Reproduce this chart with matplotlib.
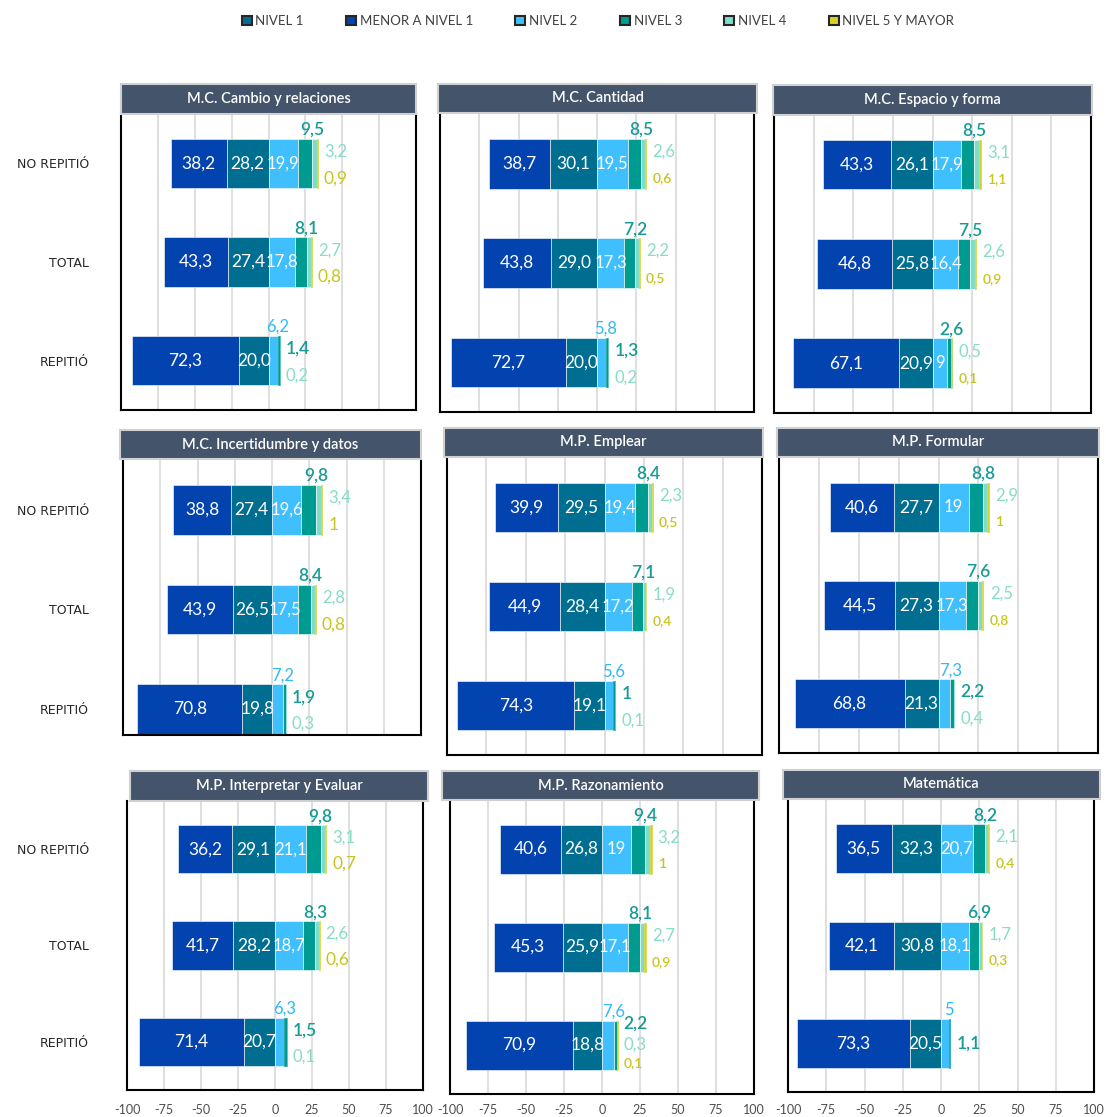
import matplotlib
matplotlib.use("Agg")
import matplotlib.pyplot as plt
from matplotlib.patches import Rectangle, Patch

# ---------------- data ----------------
groups = ["NO REPITIÓ", "TOTAL", "REPITIÓ"]
levels = ["MENOR A NIVEL 1", "NIVEL 1", "NIVEL 2", "NIVEL 3", "NIVEL 4", "NIVEL 5 Y MAYOR"]
legend_order = ["NIVEL 1", "MENOR A NIVEL 1", "NIVEL 2", "NIVEL 3", "NIVEL 4", "NIVEL 5 Y MAYOR"]
x_ticks = [-100, -75, -50, -25, 0, 25, 50, 75, 100]

panel_titles = ["M.C. Cambio y relaciones", "M.C. Cantidad", "M.C. Espacio y forma",
                "M.C. Incertidumbre y datos", "M.P. Emplear", "M.P. Formular",
                "M.P. Interpretar y Evaluar", "M.P. Razonamiento", "Matemática"]

# rows: NO REPITIÓ, TOTAL, REPITIÓ ; columns: levels (as printed in the chart)
cambio_relaciones = [["38,2", "28,2", "19,9", "9,5", "3,2", "0,9"],
                     ["43,3", "27,4", "17,8", "8,1", "2,7", "0,8"],
                     ["72,3", "20,0", "6,2", "1,4", "0,2", ""]]
cantidad = [["38,7", "30,1", "19,5", "8,5", "2,6", "0,6"],
            ["43,8", "29,0", "17,3", "7,2", "2,2", "0,5"],
            ["72,7", "20,0", "5,8", "1,3", "0,2", ""]]
espacio_forma = [["43,3", "26,1", "17,9", "8,5", "3,1", "1,1"],
                 ["46,8", "25,8", "16,4", "7,5", "2,6", "0,9"],
                 ["67,1", "20,9", "9", "2,6", "0,5", "0,1"]]
incertidumbre_datos = [["38,8", "27,4", "19,6", "9,8", "3,4", "1"],
                       ["43,9", "26,5", "17,5", "8,4", "2,8", "0,8"],
                       ["70,8", "19,8", "7,2", "1,9", "0,3", ""]]
emplear = [["39,9", "29,5", "19,4", "8,4", "2,3", "0,5"],
           ["44,9", "28,4", "17,2", "7,1", "1,9", "0,4"],
           ["74,3", "19,1", "5,6", "1", "0,1", ""]]
formular = [["40,6", "27,7", "19", "8,8", "2,9", "1"],
            ["44,5", "27,3", "17,3", "7,6", "2,5", "0,8"],
            ["68,8", "21,3", "7,3", "2,2", "0,4", ""]]
interpretar_evaluar = [["36,2", "29,1", "21,1", "9,8", "3,1", "0,7"],
                       ["41,7", "28,2", "18,7", "8,3", "2,6", "0,6"],
                       ["71,4", "20,7", "6,3", "1,5", "0,1", ""]]
razonamiento = [["40,6", "26,8", "19", "9,4", "3,2", "1"],
                ["45,3", "25,9", "17,1", "8,1", "2,7", "0,9"],
                ["70,9", "18,8", "7,6", "2,2", "0,3", "0,1"]]
matematica = [["36,5", "32,3", "20,7", "8,2", "2,1", "0,4"],
              ["42,1", "30,8", "18,1", "6,9", "1,7", "0,3"],
              ["73,3", "20,5", "5", "1,1", "", ""]]

panels_data = [cambio_relaciones, cantidad, espacio_forma, incertidumbre_datos,
               emplear, formular, interpretar_evaluar, razonamiento, matematica]

# ---------------- style ----------------
W, H = 1106, 1117
colors = ["#0343AF", "#006E90", "#40BFFF", "#009B90", "#7FDCC8", "#D4D22A"]
ext_colors = ["#0343AF", "#006E90", "#2FB9F5", "#169C94", "#86DCC8", "#C8C41E"]
ext_sizes = [12, 12, 12, 12.5, 12, 10]
FONT = "Lato"

# pixel layout: frame (l, t, r, b), title (l, t, r, b), ylim low
layout = [
    ((121, 114, 416, 410), (121, 84, 416, 114), -0.5),
    ((440, 114, 754, 412), (438, 84, 757, 113), -0.5),
    ((774, 115, 1091, 413), (773, 85, 1092, 115), -0.5),
    ((123, 460, 421, 735), (120, 430, 421, 459), -0.26),
    ((447, 458, 762, 755), (444, 428, 763, 457), -0.5),
    ((779, 458, 1098, 753), (777, 428, 1099, 457), -0.5),
    ((127, 801, 423, 1090), (130, 771, 428, 801), -0.5),
    ((450, 800, 754, 1094), (442, 771, 759, 800), -0.5),
    ((788, 800, 1094, 1092), (783, 770, 1100, 799), -0.5),
]


def to_num(s):
    return float(s.replace(",", ".")) if s else 0.0


fig = plt.figure(figsize=(W / 100, H / 100), dpi=100)

for p, (title, data) in enumerate(zip(panel_titles, panels_data)):
    (fl, ft, fr, fb), (tl, tt, tr, tb), ylow = layout[p]
    left_col = (p % 3 == 0)
    ax = fig.add_axes([fl / W, 1 - fb / H, (fr - fl) / W, (fb - ft) / H])
    ax.set_xlim(-100, 100)
    ax.set_ylim(ylow, 2.5)
    for g in [-75, -50, -25, 0, 25, 50, 75]:
        ax.axvline(g, color="#D9D9D9", lw=1.2, zorder=0)

    for i, row in enumerate(data):
        y = 2 - i
        vals = [to_num(s) for s in row]
        m, n1 = vals[0], vals[1]
        ax.barh(y, m, left=-(m + n1), height=0.5, color=colors[0],
                edgecolor="white", linewidth=0.4, zorder=2)
        ax.barh(y, n1, left=-n1, height=0.5, color=colors[1],
                edgecolor="white", linewidth=0.4, zorder=2)
        ax.text(-n1 - m / 2, y, row[0], ha="center", va="center", color="white",
                fontsize=12.5, family=FONT, zorder=4)
        ax.text(-n1 / 2, y, row[1], ha="center", va="center", color="white",
                fontsize=12.5, family=FONT, zorder=4)
        cum = 0.0
        ends = []
        for k in range(2, 6):
            v = vals[k]
            if v > 0:
                ax.barh(y, v, left=cum, height=0.5, color=colors[k],
                        edgecolor="white" if v > 1.5 else colors[k],
                        linewidth=0.4, zorder=2)
            ends.append((k, cum, cum + v))
            cum += v
        total = cum
        ext = []
        for k, s0, s1 in ends:
            if not row[k]:
                continue
            if k == 2 and vals[k] >= 8:
                ax.text((s0 + s1) / 2, y, row[k], ha="center", va="center",
                        color="white", fontsize=12, family=FONT, zorder=4)
            else:
                ext.append((k, s1))
        if ext:
            k, s1 = ext[0]
            ax.text(s1, y + 0.34, row[k], ha="center", va="center",
                    color=ext_colors[k], fontsize=ext_sizes[k], family=FONT,
                    fontweight="semibold" if k == 3 else "normal", zorder=4)
            rest = ext[1:]
            offs = {1: [0.0], 2: [0.12, -0.15], 3: [0.22, 0.0, -0.19]}.get(len(rest), [])
            for (k, s1), dy in zip(rest, offs):
                size = ext_sizes[k]
                weight = "semibold" if k in (3, 5) else "normal"
                if k == 5 and left_col and i < 2:
                    size, weight = 12.5, "normal"
                ax.text(total + 4, y + dy, row[k], ha="left", va="center",
                        color=ext_colors[k], fontsize=size, family=FONT,
                        fontweight=weight, zorder=4)

    for side in ["left", "right", "bottom"]:
        ax.spines[side].set_color("black")
        ax.spines[side].set_linewidth(1.5)
    ax.spines["top"].set_visible(False)

    ax.set_yticks([2, 1, 0])
    if left_col:
        ax.set_yticklabels(groups, fontsize=9, family="DejaVu Sans", color="#262626")
        ax.tick_params(axis="y", length=0, pad=(fl - 89) / 1.389)
    else:
        ax.tick_params(axis="y", length=0, labelleft=False)

    ax.set_xticks(x_ticks)
    if p >= 6:
        ax.set_xticklabels([str(t) for t in x_ticks], fontsize=9, family=FONT,
                           color="#4D4D4D")
        ax.tick_params(axis="x", length=0, pad=(1110 - 6 - fb) / 1.389)
    else:
        ax.tick_params(axis="x", length=0, labelbottom=False)

    # title bar
    fig.patches.append(Rectangle((tl / W, 1 - tb / H), (tr - tl) / W, (tb - tt) / H,
                                 transform=fig.transFigure, facecolor="#44546A",
                                 edgecolor="#D0D0D0", linewidth=1.5, zorder=5))
    fig.text((tl + tr) / 2 / W, 1 - (tt + tb) / 2 / H, title, ha="center", va="center",
             color="white", fontsize=10.5, family=FONT, fontweight="semibold", zorder=6)

handles = [Patch(facecolor=colors[levels.index(l)], edgecolor="#262626", linewidth=1.5)
           for l in legend_order]
fig.legend(handles, legend_order, loc="center", bbox_to_anchor=(598 / W, 1 - 21 / H),
           ncol=6, frameon=False, prop={"family": FONT, "size": 9.5},
           handlelength=0.75, handleheight=0.75, handletextpad=0.3, columnspacing=3.2,
           labelcolor="#404040")

fig.savefig("out.png", dpi=100)
